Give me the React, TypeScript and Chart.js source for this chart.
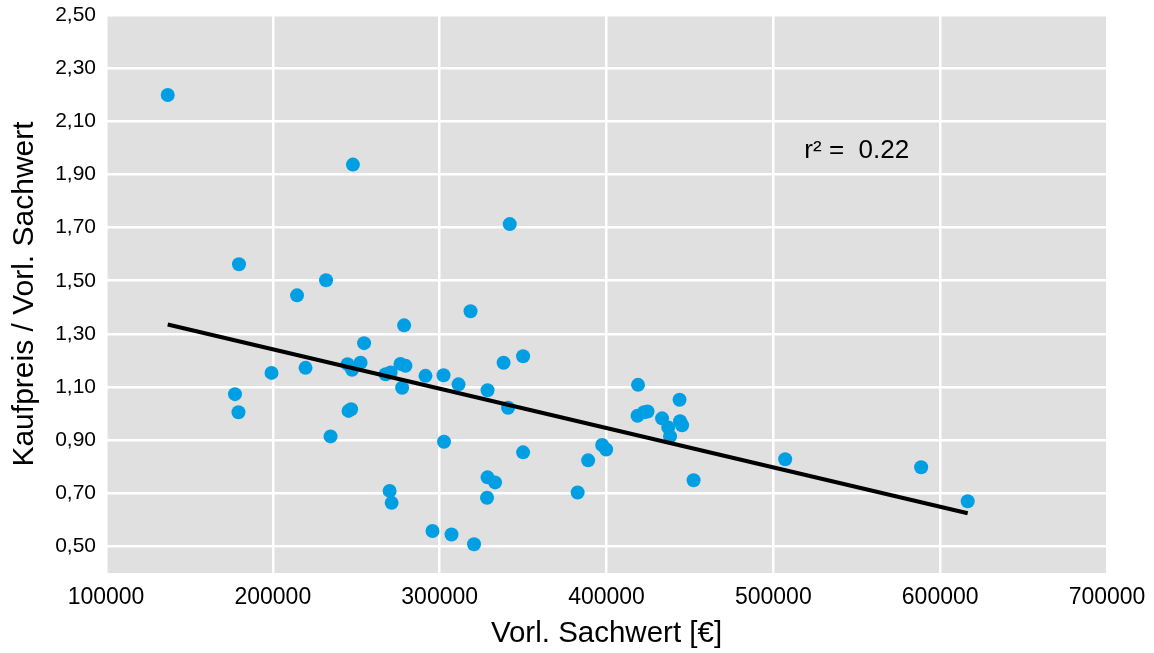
import { useEffect, useRef } from 'react';
import { Chart, registerables } from 'chart.js';

Chart.register(...registerables);

// Vorläufiger Sachwert in Euro
const sachwert = [
  137000, 248000, 342000, 179700, 231900, 214500, 318500, 278700, 254700, 350000,
  338300, 252600, 244800, 247500, 219600, 199200, 276500, 279500, 267600, 270600,
  277500, 291500, 302300, 311300, 328700, 341000, 177300, 179400, 245400, 246900,
  234600, 302600, 350000, 328700, 333200, 328400, 270000, 271200, 295700, 307100,
  320600, 382700, 389000, 397400, 399800, 418900, 418600, 422500, 424600, 433300,
  444100, 445300, 438100, 443800, 452200, 507100, 588600, 616500, 437000,
];

// Kaufpreis / vorläufiger Sachwert
const kaufpreisRatio = [
  2.199, 1.937, 1.713, 1.562, 1.502, 1.445, 1.385, 1.332, 1.265, 1.216,
  1.191, 1.191, 1.186, 1.165, 1.172, 1.153, 1.187, 1.18, 1.148, 1.155,
  1.097, 1.142, 1.144, 1.11, 1.088, 1.022, 1.073, 1.005, 1.01, 1.016,
  0.914, 0.894, 0.854, 0.76, 0.741, 0.683, 0.709, 0.664, 0.558, 0.545,
  0.508, 0.703, 0.824, 0.882, 0.865, 1.108, 0.992, 1.005, 1.008, 0.982,
  0.971, 0.956, 0.914, 1.052, 0.749, 0.828, 0.798, 0.67, 0.948,
];

// Endpunkte der Regressionsgeraden
const trendX = [137000, 616500];
const trendY = [1.335, 0.625];

const yTickValues = [0.5, 0.7, 0.9, 1.1, 1.3, 1.5, 1.7, 1.9, 2.1, 2.3, 2.5];
const xTickValues = [100000, 200000, 300000, 400000, 500000, 600000, 700000];

const rSquaredText = 'r² =  0.22';
const rSquaredPos = { x: 550000, y: 1.99 };

const FONT = '"Liberation Sans", Arial, sans-serif';

const plotBackground = {
  id: 'plotBackground',
  beforeDraw(chart: any) {
    const { ctx, chartArea: a } = chart;
    ctx.save();
    ctx.fillStyle = '#E0E0E0';
    ctx.fillRect(a.left, a.top, a.right - a.left, a.bottom - a.top);
    ctx.restore();
  },
};

const rSquaredLabel = {
  id: 'rSquaredLabel',
  afterDatasetsDraw(chart: any) {
    const { ctx, scales } = chart;
    const px = scales.x.getPixelForValue(rSquaredPos.x);
    const py = scales.y.getPixelForValue(rSquaredPos.y);
    ctx.save();
    ctx.font = `26px ${FONT}`;
    ctx.fillStyle = '#000';
    ctx.textAlign = 'center';
    ctx.textBaseline = 'middle';
    ctx.fillText(rSquaredText, px, py);
    ctx.restore();
  },
};

export default function App() {
  const canvasRef = useRef<HTMLCanvasElement | null>(null);

  useEffect(() => {
    const canvas = canvasRef.current;
    if (!canvas) return;

    const chart = new Chart(canvas, {
      type: 'scatter',
      data: {
        datasets: [
          {
            type: 'line',
            data: trendX.map((x, i) => ({ x, y: trendY[i] })),
            borderColor: '#000',
            borderWidth: 4,
            pointRadius: 0,
            fill: false,
            order: 0,
          } as any,
          {
            data: sachwert.map((x, i) => ({ x, y: kaufpreisRatio[i] })),
            backgroundColor: '#009FE3',
            borderWidth: 0,
            pointRadius: 7,
            order: 1,
          },
        ],
      },
      options: {
        responsive: false,
        animation: false,
        layout: { padding: { top: 15, right: 47, left: 0, bottom: 0 } },
        plugins: {
          legend: { display: false },
          tooltip: { enabled: false },
          title: { display: false },
        },
        scales: {
          x: {
            type: 'linear',
            min: 100000,
            max: 700000,
            afterBuildTicks: (scale: any) => {
              scale.ticks = xTickValues.map((value) => ({ value }));
            },
            afterFit: (scale: any) => {
              scale.height = 80;
              scale.paddingLeft = 0;
              scale.paddingRight = 0;
            },
            grid: { color: '#FFFFFF', lineWidth: 2.5, drawTicks: false },
            border: { display: false },
            ticks: {
              padding: 11,
              color: '#000',
              font: { family: FONT, size: 23 },
              maxRotation: 0,
              callback: (v: any) => String(v),
            },
            title: {
              display: true,
              text: 'Vorl. Sachwert [€]',
              color: '#000',
              font: { family: FONT, size: 29.5, lineHeight: 1.2 },
              padding: { top: 2, bottom: 1 },
            },
          },
          y: {
            type: 'linear',
            min: 0.4,
            max: 2.5,
            afterBuildTicks: (scale: any) => {
              scale.ticks = yTickValues.map((value) => ({ value }));
            },
            afterFit: (scale: any) => {
              scale.width = 106;
              scale.paddingTop = 0;
              scale.paddingBottom = 0;
            },
            grid: { color: '#FFFFFF', lineWidth: 2.5, drawTicks: false },
            border: { display: false },
            ticks: {
              padding: 10,
              color: '#000',
              font: { family: FONT, size: 21 },
              callback: (v: any) => Number(v).toFixed(2).replace('.', ','),
            },
            title: {
              display: true,
              text: 'Kaufpreis / Vorl. Sachwert',
              color: '#000',
              font: { family: FONT, size: 30, lineHeight: 1.2 },
              padding: { top: 7, bottom: 0 },
            },
          },
        },
      },
      plugins: [plotBackground, rSquaredLabel],
    });

    return () => chart.destroy();
  }, []);

  return (
    <div style={{ position: 'fixed', left: 0, top: 0, width: 1154, height: 653, background: '#fff' }}>
      <canvas ref={canvasRef} width={1154} height={653} style={{ display: 'block' }} />
    </div>
  );
}
